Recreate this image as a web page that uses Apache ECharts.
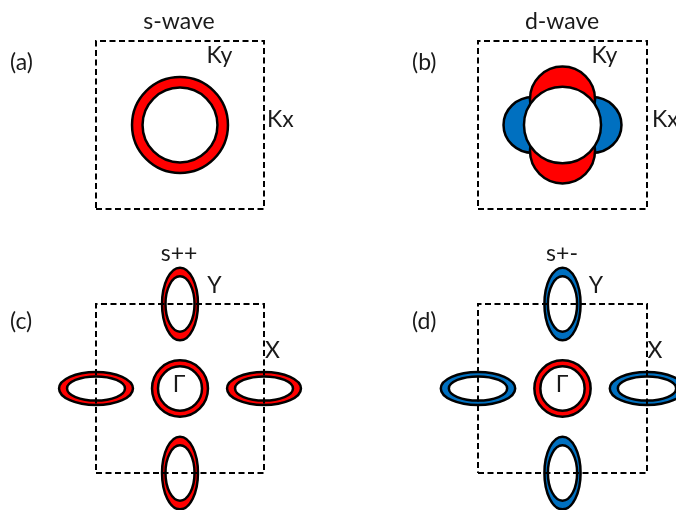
<!DOCTYPE html>
<html>
<head>
<meta charset="utf-8">
<title>Superconducting gap symmetries</title>
<script src="https://cdn.jsdelivr.net/npm/echarts@6/dist/echarts.min.js"></script>
<style>
  html, body { margin: 0; padding: 0; background: #ffffff; }
  #chart { width: 676px; height: 510px; }
</style>
</head>
<body>
<div id="chart"></div>
<script>
// ---- data (momentum in units of the zone half-width) ----
const panelLetters = ['(a)', '(b)', '(c)', '(d)'];
const panelTitles = ['s-wave', 'd-wave', 's++', 's+-'];
const axisNames = ['Ky', 'Kx'];
const pointNames = ['Y', 'X', 'Γ'];

// Brillouin-zone boundary (closed square)
const zoneKx = [-1, 1, 1, -1, -1];
const zoneKy = [-1, -1, 1, 1, -1];

// Fermi surfaces: [kx, ky, outer rx, outer ry, inner rx, inner ry]
const sWaveRing = [[0, 0, 0.571, 0.571, 0.446, 0.446]];
const gammaPocket = [[0, 0, 0.333, 0.333, 0.262, 0.262]];
const xPockets = [[-1, 0, 0.44, 0.196, 0.345, 0.143], [1, 0, 0.44, 0.196, 0.345, 0.143]];
const yPockets = [[0, 1, 0.214, 0.43, 0.173, 0.327], [0, -1, 0.214, 0.43, 0.173, 0.327]];

// d-wave gap lobes: [kx, ky, rx, ry]
const dLobesKx = [[-0.349, 0, 0.349, 0.333], [0.349, 0, 0.349, 0.333]];   // negative sign along kx
const dLobesKy = [[0, 0.308, 0.385, 0.387], [0, -0.308, 0.385, 0.387]];   // positive sign along ky
const dNodeCircle = [[0, 0, 0.456, 0.456]];

// gap sign colours
const RED = '#FF0000';
const BLUE = '#0070C0';
const EDGE = '#000000';

const chart = echarts.init(document.getElementById('chart'), null, { renderer: 'canvas' });

const grids = [
  { left: 96, top: 41, width: 168, height: 168 },
  { left: 478, top: 41, width: 169, height: 168 },
  { left: 96, top: 304, width: 168, height: 169 },
  { left: 478, top: 304, width: 169, height: 169 }
];

function axis(i) {
  return { type: 'value', gridIndex: i, min: -1, max: 1, show: false };
}

function ellipseEl(api, kx, ky, rx, ry, fill) {
  const c = api.coord([kx, ky]);
  const sx = api.size([rx, 0])[0];
  const sy = api.size([0, ry])[1];
  return {
    type: 'ellipse',
    shape: { cx: c[0], cy: c[1], rx: sx, ry: sy },
    style: { fill: fill, stroke: EDGE, lineWidth: 2.5 }
  };
}

// coloured band between an outer and an inner ellipse
function pocketSeries(gridIndex, data, fill) {
  return {
    type: 'custom',
    xAxisIndex: gridIndex,
    yAxisIndex: gridIndex,
    clip: false,
    z: 2,
    silent: true,
    data: data,
    renderItem: function (params, api) {
      const kx = api.value(0), ky = api.value(1);
      return {
        type: 'group',
        children: [
          ellipseEl(api, kx, ky, api.value(2), api.value(3), fill),
          ellipseEl(api, kx, ky, api.value(4), api.value(5), '#ffffff')
        ]
      };
    }
  };
}

function ellipseSeries(gridIndex, data, fill, z) {
  return {
    type: 'custom',
    xAxisIndex: gridIndex,
    yAxisIndex: gridIndex,
    clip: false,
    z: z,
    silent: true,
    data: data,
    renderItem: function (params, api) {
      return ellipseEl(api, api.value(0), api.value(1), api.value(2), api.value(3), fill);
    }
  };
}

function zoneSeries(gridIndex) {
  return {
    type: 'line',
    xAxisIndex: gridIndex,
    yAxisIndex: gridIndex,
    clip: false,
    z: 5,
    silent: true,
    symbol: 'none',
    animation: false,
    data: zoneKx.map((x, i) => [x, zoneKy[i]]),
    lineStyle: { color: EDGE, width: 2, type: [6, 3.5], join: 'miter', cap: 'butt' }
  };
}

const FONT = '23px Lato, "Open Sans", "DejaVu Sans", sans-serif';
function txt(text, x, y, align) {
  return {
    type: 'text',
    x: x, y: y,
    z: 100,
    silent: true,
    style: {
      text: text,
      fill: '#1a1a1a',
      font: FONT,
      textAlign: align || 'center',
      textVerticalAlign: 'middle'
    }
  };
}

const option = {
  animation: false,
  backgroundColor: '#ffffff',
  grid: grids,
  xAxis: [0, 1, 2, 3].map(axis),
  yAxis: [0, 1, 2, 3].map(axis),
  series: [
    zoneSeries(0), zoneSeries(1), zoneSeries(2), zoneSeries(3),
    // (a) isotropic s-wave gap
    pocketSeries(0, sWaveRing, RED),
    // (b) d-wave gap
    ellipseSeries(1, dLobesKx, BLUE, 2),
    ellipseSeries(1, dLobesKy, RED, 3),
    ellipseSeries(1, dNodeCircle, '#ffffff', 4),
    // (c) s++ : same sign on all pockets
    pocketSeries(2, gammaPocket, RED),
    pocketSeries(2, xPockets, RED),
    pocketSeries(2, yPockets, RED),
    // (d) s+- : electron pockets change sign
    pocketSeries(3, gammaPocket, RED),
    pocketSeries(3, xPockets, BLUE),
    pocketSeries(3, yPockets, BLUE)
  ],
  graphic: {
    elements: [
      txt(panelTitles[0], 179, 22),
      txt(panelTitles[1], 562, 22),
      txt(panelTitles[2], 179, 254),
      txt(panelTitles[3], 562, 254),
      txt(panelLetters[0], 10, 63, 'left'),
      txt(panelLetters[1], 412, 63, 'left'),
      txt(panelLetters[2], 10, 322, 'left'),
      txt(panelLetters[3], 412, 322, 'left'),
      txt(axisNames[0], 219.5, 56),
      txt(axisNames[1], 267, 120, 'left'),
      txt(axisNames[0], 604.5, 56),
      txt(axisNames[1], 652, 120, 'left'),
      txt(pointNames[0], 214.5, 285.5),
      txt(pointNames[1], 272.5, 350.5),
      txt(pointNames[2], 179, 385),
      txt(pointNames[0], 596, 285.5),
      txt(pointNames[1], 655, 350.5),
      txt(pointNames[2], 562, 385)
    ]
  }
};

chart.setOption(option);
</script>
</body>
</html>
